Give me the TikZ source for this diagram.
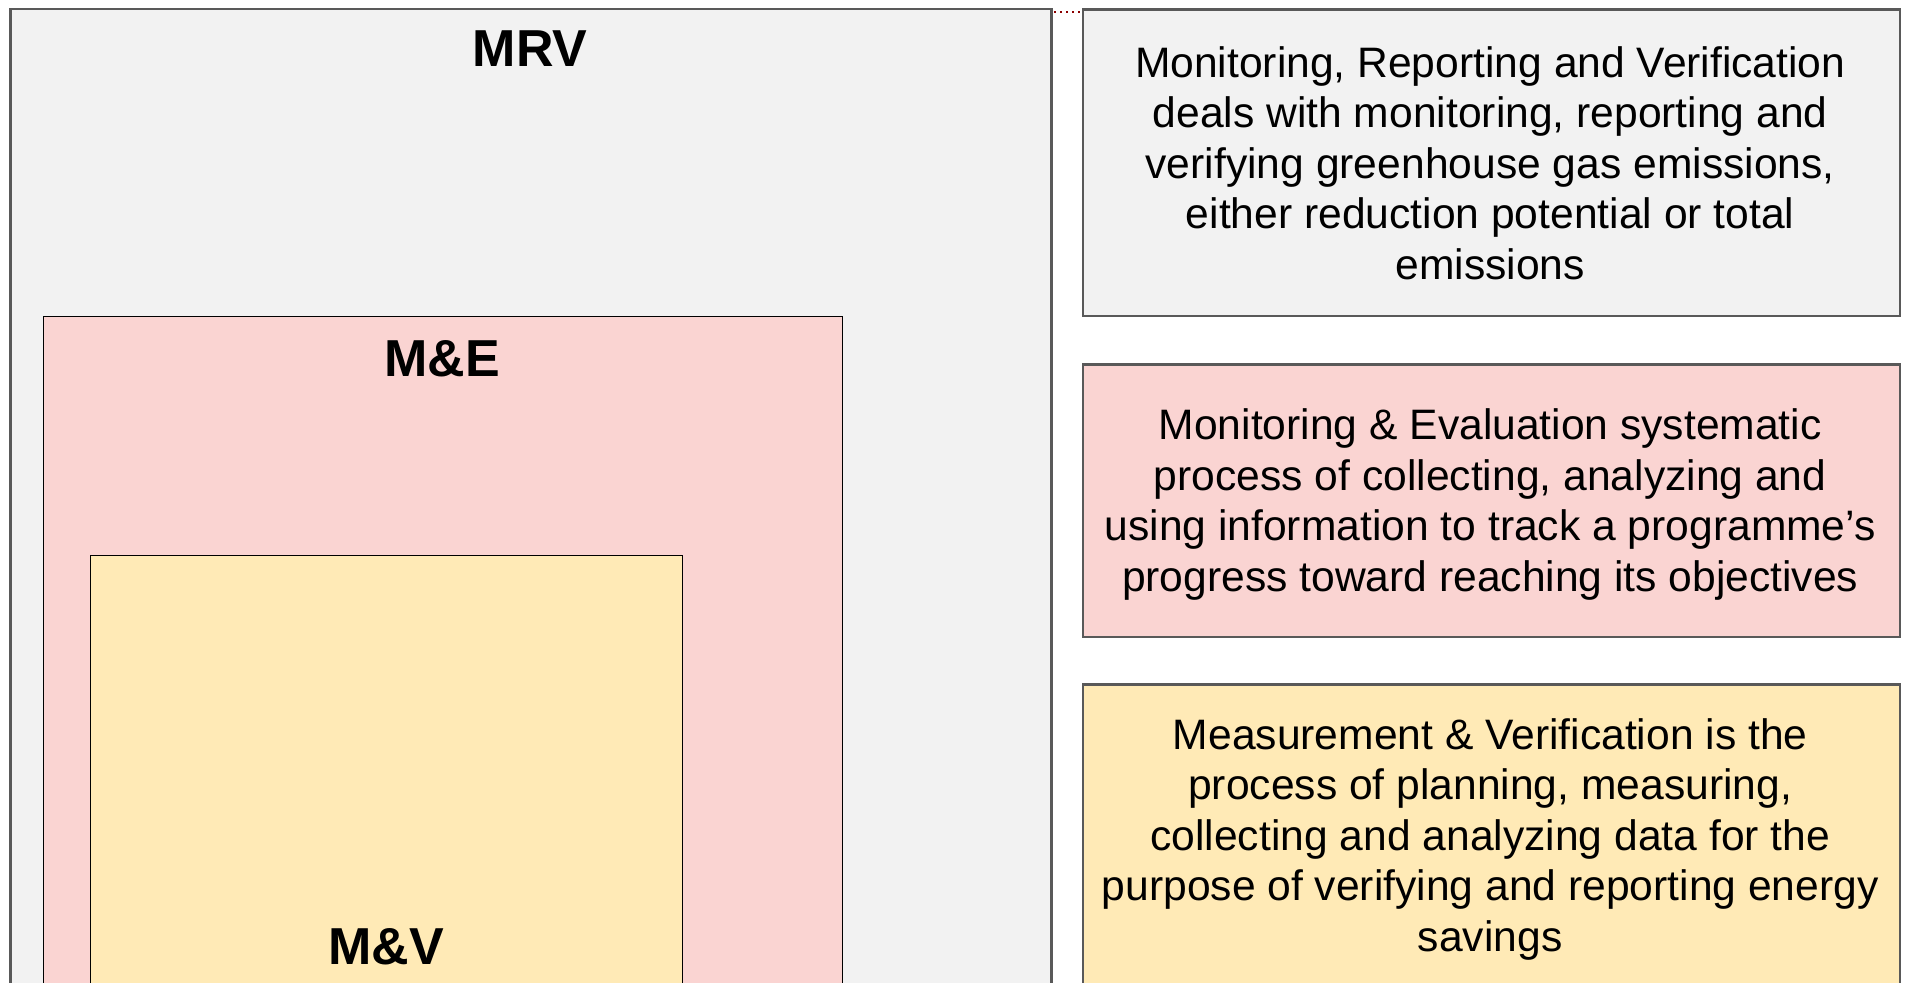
\documentclass[tikz,border=0pt]{standalone}
\usepackage{fontspec}
\setmainfont{Liberation Sans}
\begin{document}
\begin{tikzpicture}[x=1pt,y=-1pt,
  box/.style={draw=#1, inner sep=0pt, anchor=north west},
  boxtitle/.style={font=\fontsize{52}{60}\selectfont\bfseries, anchor=base, inner sep=0pt},
  desc/.style={font=\fontsize{42.6}{50.6}\selectfont, align=center, anchor=base, inner sep=0pt},
  link/.style={draw=red!55!black, line width=2pt, dash pattern=on 2pt off 4pt}
]
\definecolor{greyfill}{HTML}{F2F2F2}
\definecolor{pinkfill}{HTML}{FAD4D2}
\definecolor{yellowfill}{HTML}{FFEAB6}
\definecolor{edge}{HTML}{595959}
\useasboundingbox (0,0) rectangle (1905,982);
\clip (0,0) rectangle (1905,982);
\fill[white] (0,0) rectangle (1905,982);

% left nested boxes
\node[box=edge, line width=2.5pt, fill=greyfill, minimum width=1041pt, minimum height=1000pt] (mrv) at (9,8) {};
\node[box=black, line width=1pt, fill=pinkfill, minimum width=799.5pt, minimum height=700pt] (me) at (42.5,316) {};
\node[box=black, line width=1pt, fill=yellowfill, minimum width=591.5pt, minimum height=500pt] (mv) at (90,555) {};

\node[boxtitle] (mrvt) at (530,66.7) {MRV};
\node[boxtitle] (met) at (442,376.7) {M\&E};
\node[boxtitle] (mvt) at (386,964) {M\&V};

% right description boxes
\node[box=edge, line width=2.5pt, fill=greyfill, minimum width=817pt, minimum height=306.2pt] (mrvd) at (1081.7,8.5) {};
\node[box=edge, line width=2.5pt, fill=pinkfill, minimum width=817pt, minimum height=272.4pt] (med) at (1081.7,363.3) {};
\node[box=edge, line width=2.5pt, fill=yellowfill, minimum width=817pt, minimum height=302pt] (mvd) at (1081.7,683.3) {};

\node[desc] (mrvdt) at (1490.2,279.4) {Monitoring, Reporting and Verification\\deals with monitoring, reporting and\\verifying greenhouse gas emissions,\\either reduction potential or total\\emissions};
\node[desc] (medt) at (1490.2,591.4) {Monitoring \& Evaluation systematic\\process of collecting, analyzing and\\using information to track a programme’s\\progress toward reaching its objectives};
\node[desc] (mvdt) at (1490.2,951.4) {Measurement \& Verification is the\\process of planning, measuring,\\collecting and analyzing data for the\\purpose of verifying and reporting energy\\savings};

% dotted connector
\draw[link] ([xshift=1.5pt,yshift=-4pt]mrv.north east) -- ([xshift=-1.5pt,yshift=-3.5pt]mrvd.north west);
\end{tikzpicture}
\end{document}
